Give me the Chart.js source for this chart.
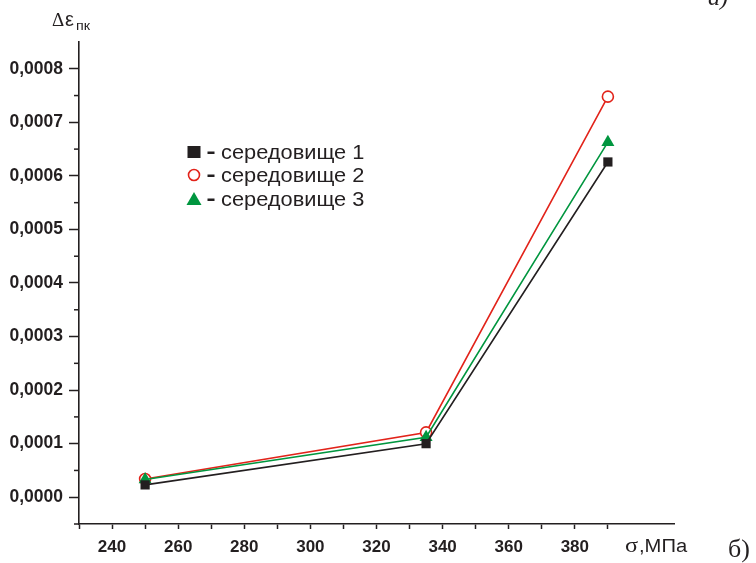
<!DOCTYPE html>
<html>
<head>
<meta charset="utf-8">
<script src="https://cdn.jsdelivr.net/npm/chart.js@4/dist/chart.umd.min.js"></script>
<style>
  html, body { margin: 0; padding: 0; background: #fff; }
  #wrap { width: 756px; height: 563px; position: relative; }
</style>
</head>
<body>
<div id="wrap"><canvas id="c" width="756" height="563"></canvas></div>
<script>
// ---- data ----
const sigma = [250, 335, 390];
const env1 = [0.000023, 0.000100, 0.000626];
const env2 = [0.000034, 0.000121, 0.000748];
const env3 = [0.000033, 0.000112, 0.000663];
const seriesLabels = ['середовище 1', 'середовище 2', 'середовище 3'];
const xTickLabels = [240, 260, 280, 300, 320, 340, 360, 380];
const yTickLabels = ['0,0000','0,0001','0,0002','0,0003','0,0004','0,0005','0,0006','0,0007','0,0008'];

const BLACK = '#231f20', RED = '#e2231a', GREEN = '#00963f';
const FONT = '"Liberation Sans", Arial, sans-serif';
const SERIF = '"Liberation Serif", "Times New Roman", serif';

function pts(ys) { return sigma.map((x, i) => ({ x: x, y: ys[i] })); }

const isMajorY = v => Math.abs(Math.round(v * 1e5)) % 10 === 0;

function wideText(ctx, txt, x, y, sx) {
  ctx.save();
  ctx.translate(x, y);
  ctx.scale(sx, 1);
  ctx.fillText(txt, 0, 0);
  ctx.restore();
}

const extras = {
  id: 'extras',
  afterDraw(chart) {
    const ctx = chart.ctx;
    const ys = chart.scales.y;
    ctx.save();
    // minor y ticks (short)
    ctx.strokeStyle = BLACK;
    ctx.lineWidth = 1.5;
    ys.ticks.forEach(t => {
      if (!isMajorY(t.value)) {
        const py = ys.getPixelForValue(t.value);
        ctx.beginPath();
        ctx.moveTo(ys.right - 5, py);
        ctx.lineTo(ys.right, py);
        ctx.stroke();
      }
    });
    // legend
    const lx = 194, rows = [152, 175, 199];
    chart.data.datasets.forEach((ds, i) => {
      const cy = rows[i];
      ctx.lineWidth = 1.6;
      if (i === 0) {
        ctx.fillStyle = BLACK;
        ctx.fillRect(lx - 6.5, cy - 6, 13, 12);
      } else if (i === 1) {
        ctx.strokeStyle = RED;
        ctx.fillStyle = '#fff';
        ctx.beginPath(); ctx.arc(lx, cy, 5.5, 0, Math.PI * 2); ctx.fill(); ctx.stroke();
      } else {
        ctx.fillStyle = GREEN;
        ctx.beginPath();
        ctx.moveTo(lx, cy - 7); ctx.lineTo(lx + 7.5, cy + 6); ctx.lineTo(lx - 7.5, cy + 6); ctx.closePath(); ctx.fill();
      }
      ctx.fillStyle = BLACK;
      ctx.fillRect(207.5, cy - 0.5, 7, 2.5);
      ctx.textBaseline = 'alphabetic';
      ctx.textAlign = 'left';
      ctx.font = '20px ' + FONT;
      wideText(ctx, ds.label, 221, cy + 7, 1.09);
    });
    // axis titles
    ctx.fillStyle = BLACK;
    ctx.textBaseline = 'alphabetic';
    ctx.font = '19px ' + SERIF;
    ctx.fillText('Δ', 52, 26);
    ctx.font = '20px ' + FONT;
    ctx.fillText('ε', 65, 26);
    ctx.font = '13px ' + FONT;
    wideText(ctx, 'пк', 76, 30, 1.1);
    ctx.font = '22px ' + SERIF;
    wideText(ctx, 'σ', 625, 552, 1.1);
    ctx.font = '18px ' + FONT;
    wideText(ctx, ',МПа', 639, 552, 1.12);
    ctx.font = '26px ' + SERIF;
    ctx.fillText('б)', 728, 557);
    ctx.font = 'italic 24px ' + SERIF;
    ctx.fillText('а)', 708, 5);
    ctx.restore();
  }
};

new Chart(document.getElementById('c'), {
  type: 'line',
  data: {
    datasets: [
      { label: seriesLabels[0], data: pts(env1), borderColor: BLACK, backgroundColor: BLACK,
        pointStyle: 'rect', pointRadius: 6.5, pointBorderWidth: 0, borderWidth: 1.6, order: 1 },
      { label: seriesLabels[1], data: pts(env2), borderColor: RED, backgroundColor: '#fff',
        pointBorderColor: RED, pointStyle: 'circle', pointRadius: 5.5, pointBorderWidth: 1.6, borderWidth: 1.6, order: 3 },
      { label: seriesLabels[2], data: pts(env3), borderColor: GREEN, backgroundColor: GREEN,
        pointStyle: 'triangle', pointRadius: 7.5, pointBorderWidth: 0, borderWidth: 1.6, order: 2 }
    ]
  },
  options: {
    responsive: false,
    animation: false,
    layout: { padding: { left: 0, top: 42, right: 82, bottom: 0 } },
    plugins: { legend: { display: false }, tooltip: { enabled: false } },
    scales: {
      x: {
        type: 'linear', min: 230, max: 410,
        afterBuildTicks: s => { s.ticks = []; for (let v = 230; v <= 390; v += 10) s.ticks.push({ value: v }); },
        afterFit: s => { s.height = 39; },
        ticks: {
          autoSkip: false, maxRotation: 0, padding: 8, color: BLACK,
          font: { family: FONT, size: 17, weight: 'bold' },
          callback: v => xTickLabels.includes(v) ? String(v) : ''
        },
        grid: { drawOnChartArea: false, drawTicks: true, tickLength: 5, tickColor: BLACK, tickWidth: 1.5 },
        border: { color: BLACK, width: 1.6 }
      },
      y: {
        type: 'linear', min: -0.00005, max: 0.00085,
        afterBuildTicks: s => { s.ticks = []; for (let k = -1; k <= 16; k++) s.ticks.push({ value: k * 0.00005 }); },
        afterFit: s => { s.width = 79; },
        ticks: {
          autoSkip: false, padding: 6, color: BLACK,
          font: { family: FONT, size: 17.5, weight: 'bold' },
          callback: function (v) {
            const k = Math.round(v * 1e5);
            if (k < 0 || k % 10 !== 0) return '';
            return yTickLabels[k / 10];
          }
        },
        grid: { drawOnChartArea: false, drawTicks: true, tickLength: 10, tickWidth: 1.5,
          tickColor: ctx => (ctx.tick && isMajorY(ctx.tick.value) && ctx.tick.value >= 0) ? BLACK : 'rgba(0,0,0,0)' },
        border: { color: BLACK, width: 1.6 }
      }
    }
  },
  plugins: [extras]
});
</script>
</body>
</html>
